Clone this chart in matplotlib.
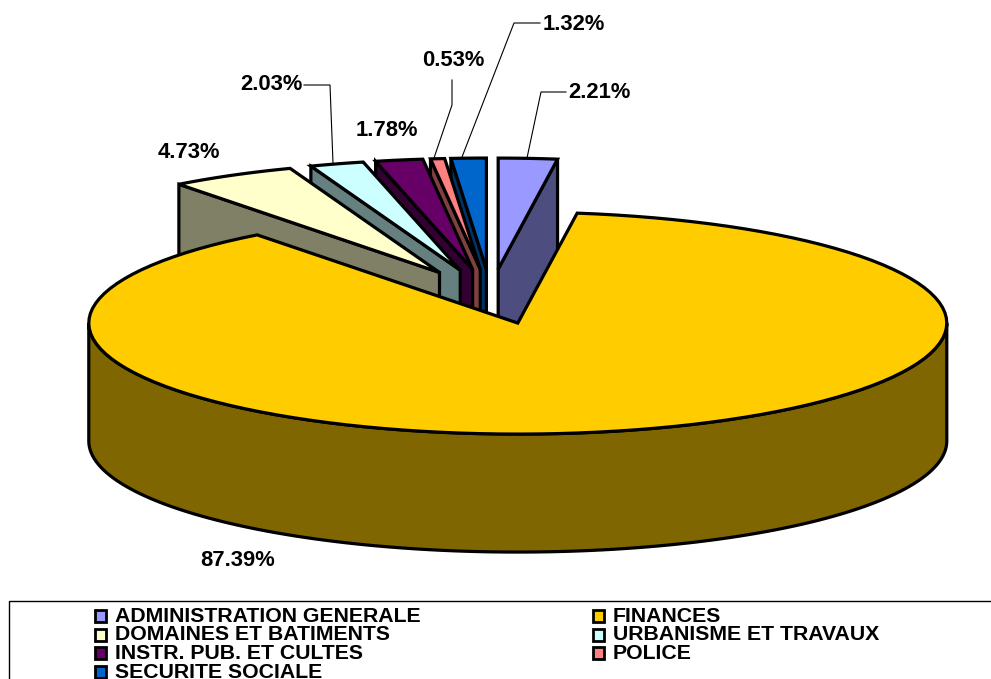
import numpy as np
import matplotlib
matplotlib.use("Agg")
import matplotlib.pyplot as plt
from matplotlib.patches import Polygon, Rectangle

categories = ["ADMINISTRATION GENERALE", "FINANCES", "DOMAINES ET BATIMENTS",
              "URBANISME ET TRAVAUX", "INSTR. PUB. ET CULTES", "POLICE", "SECURITE SOCIALE"]
values = [2.21, 87.39, 4.73, 2.03, 1.78, 0.53, 1.32]
colors = ["#9999FF", "#FFCC00", "#FFFFCC", "#CCFFFF", "#660066", "#FF8080", "#0066CC"]

label_pos = [(568, 92), (200, 561), (158, 153), (240, 85), (356, 130), (422, 60), (543, 24)]
leaders = [[(566, 92), (541, 92), (527, 158)],
           None,
           None,
           [(304, 85), (330, 85), (333, 163)],
           None,
           [(452, 80), (452, 105), (434, 158)],
           [(540, 23), (514, 23), (462, 157)]]

CX, CY = 490.8, 296.5      # undisplaced pie centre, pixels
RX, RY = 429.0, 111.0      # ellipse radii
EXPLODE = 0.2475           # fraction of radius
DEPTH = 118.0
LW = 2.3

fig = plt.figure(figsize=(9.91, 6.79), dpi=100)
ax = fig.add_axes([0, 0, 1, 1])
ax.set_xlim(0, 991)
ax.set_ylim(679, 0)
ax.axis("off")


def rim(apex, a0, a1, n=120):
    t = np.radians(np.linspace(a0, a1, n))
    return np.column_stack([apex[0] + RX * np.sin(t), apex[1] - RY * np.cos(t)])


def darker(c):
    r, g, b = matplotlib.colors.to_rgb(c)
    return (r * 0.5, g * 0.5, b * 0.5)


def poly(pts, fc, z):
    ax.add_patch(Polygon(pts, closed=True, fc=fc, ec="black", lw=LW, joinstyle="miter", zorder=z))


total = sum(values)
edges = np.concatenate([[0], np.cumsum(values)]) / total * 360
# painter's order: back slices first, the big slice last
order = [0, 6, 5, 4, 3, 2, 1]
for z, i in enumerate(order):
    a0, a1 = edges[i], edges[i + 1]
    mid = np.radians((a0 + a1) / 2)
    apex = (CX + EXPLODE * RX * np.sin(mid), CY - EXPLODE * RY * np.cos(mid))
    side = darker(colors[i])
    down = np.array([0, DEPTH])
    arc = rim(apex, a0, a1)
    if a1 - a0 > 180:
        front = rim(apex, 90, 270)
        poly(np.vstack([front, (front + down)[::-1]]), side, z * 2)
    elif a0 >= 180:
        pts = np.array([apex, arc[0]])
        poly(np.vstack([pts, (pts + down)[::-1]]), side, z * 2)
    else:
        pts = np.array([apex, arc[-1]])
        poly(np.vstack([pts, (pts + down)[::-1]]), side, z * 2)
    poly(np.vstack([[apex], arc]), colors[i], z * 2 + 1)

FONT = dict(family="Liberation Sans", fontweight="bold", color="black")
for v, (x, y), lead in zip(values, label_pos, leaders):
    ax.text(x, y, f"{v:.2f}%", fontsize=15.8, ha="left", va="center", zorder=30, **FONT)
    if lead:
        xs, ys = zip(*lead)
        ax.plot(xs, ys, color="black", lw=0.8, zorder=30)

# legend frame, running off the right and bottom of the picture
ax.add_patch(Rectangle((8.5, 600.5), 1100, 200, fc="white", ec="black", lw=1.0, zorder=40, clip_on=True))
col_x = [95, 593]
row_y = [615.5, 634.5, 653, 671.5]
for k, (name, c) in enumerate(zip(categories, colors)):
    x = col_x[k % 2]
    y = row_y[k // 2]
    ax.add_patch(Rectangle((x, y - 6), 11, 12, fc=c, ec="black", lw=2.0, zorder=41))
    ax.text(x + 20, y + 0.5, name, fontsize=15.3, ha="left", va="center", zorder=41, **FONT)

fig.savefig("out.png", dpi=100)
